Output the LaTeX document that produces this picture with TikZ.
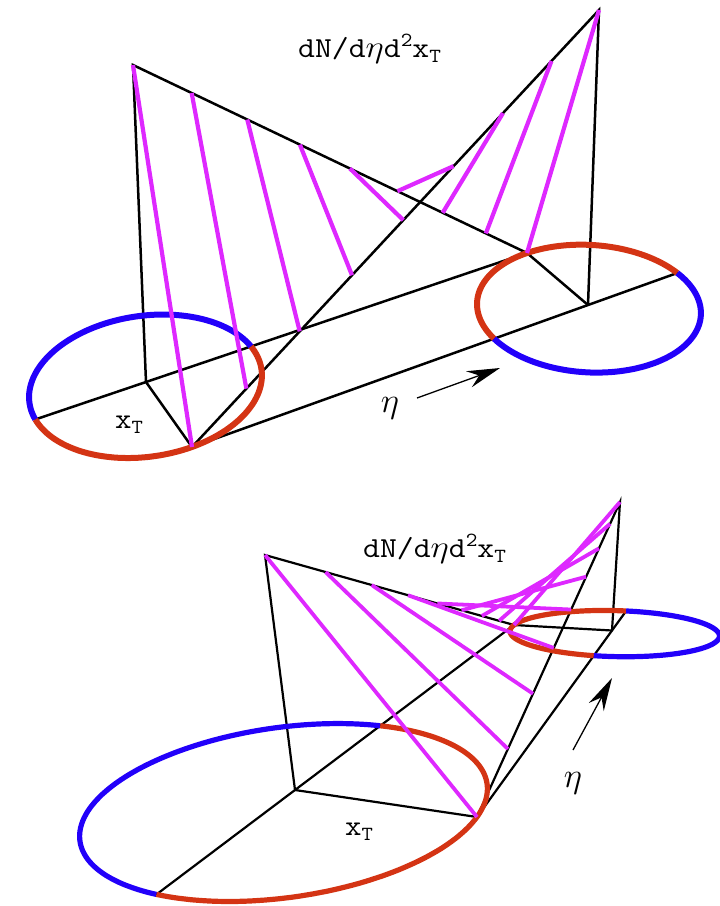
\RequirePackage{fix-cm}
\documentclass[tikz,border=0pt]{standalone}
\usetikzlibrary{calc,arrows.meta}
\definecolor{ellblue}{RGB}{34,0,250}
\definecolor{ellred}{RGB}{212,52,20}
\definecolor{rulepurple}{RGB}{222,40,255}
\def\hmA{0}\def\hmB{0}\def\hmC{0}\def\hmD{0}\def\hmE{0}\def\hmF{0}\def\hmG{0}\def\hmH{0}
\pgfmathdeclarefunction{HX}{2}{\pgfmathparse{((\hmA)*(#1)+(\hmB)*(#2)+(\hmC))/((\hmG)*(#1)+(\hmH)*(#2)+1)}}
\pgfmathdeclarefunction{HY}{2}{\pgfmathparse{((\hmD)*(#1)+(\hmE)*(#2)+(\hmF))/((\hmG)*(#1)+(\hmH)*(#2)+1)}}
% homography of the base plane: (0,0)->C1, (1,0)->P2, (1,1)->C2, (0,1)->B1
\newcommand{\SetHomog}[8]{%
  \pgfmathsetmacro\hmSx{(#1-#3+#5-#7)/100}%
  \pgfmathsetmacro\hmSy{(#2-#4+#6-#8)/100}%
  \pgfmathsetmacro\hmXa{(#3-#5)/100}%
  \pgfmathsetmacro\hmXb{(#7-#5)/100}%
  \pgfmathsetmacro\hmYa{(#4-#6)/100}%
  \pgfmathsetmacro\hmYb{(#8-#6)/100}%
  \pgfmathsetmacro\hmDen{(\hmXa)*(\hmYb)-(\hmXb)*(\hmYa)}%
  \pgfmathsetmacro\hmG{((\hmSx)*(\hmYb)-(\hmXb)*(\hmSy))/(\hmDen)}%
  \pgfmathsetmacro\hmH{((\hmXa)*(\hmSy)-(\hmSx)*(\hmYa))/(\hmDen)}%
  \pgfmathsetmacro\hmA{#3-#1+(\hmG)*#3}%
  \pgfmathsetmacro\hmB{#7-#1+(\hmH)*#7}%
  \pgfmathsetmacro\hmC{#1}%
  \pgfmathsetmacro\hmD{#4-#2+(\hmG)*#4}%
  \pgfmathsetmacro\hmE{#8-#2+(\hmH)*#8}%
  \pgfmathsetmacro\hmF{#2}%
}
\newcommand{\labtext}{\scalebox{1.13}[1]{dN/d{\fontsize{31}{31}\selectfont$\eta$}d\raisebox{11pt}{\fontsize{20}{20}\selectfont 2}x\raisebox{-5pt}{\fontsize{20}{20}\selectfont T}}}
\newcommand{\xttext}{\scalebox{1.1}[1]{x\raisebox{-5pt}{\fontsize{20}{20}\selectfont T}}}
\begin{document}
\begin{tikzpicture}[x=1pt,y=-1pt,
  blk/.style={line width=2.5pt,black,line cap=round},
  ellb/.style={line width=6pt,ellblue,line join=round},
  ellr/.style={line width=6pt,ellred,line join=round},
  purp/.style={line width=4.2pt,rulepurple},
  lab/.style={inner sep=0pt,font=\fontsize{29}{31}\selectfont\ttfamily},
  etalab/.style={inner sep=0pt,font=\fontsize{35}{37}\selectfont},
  etaarrow/.style={line width=1.3pt,-{Stealth[length=33pt,width=17pt,inset=11pt]}}]
\path[use as bounding box] (0,0) rectangle (720,906);

% ===================== top figure =====================
\SetHomog{146}{382}{527}{253}{588}{305}{192}{447}
\def\Lr{3.9}
\coordinate (tC1) at (146,382);
\coordinate (tP2) at (527,253);
\coordinate (tC2) at (588,305);
\coordinate (tB1) at (192,447);
\coordinate (tA1) at (133,65);
\coordinate (tA2) at (599,10);
\coordinate (tLm) at ({HX(-1/\Lr,0)},{HY(-1/\Lr,0)});
\coordinate (tRp) at ({HX(1+1/\Lr,1)},{HY(1+1/\Lr,1)});
\draw[blk] (tLm) -- (tC1) -- (tP2);
\draw[blk] (tB1) -- (tC2) -- (tRp);
\draw[blk] (tC1) -- (tB1);
\draw[blk] (tC2) -- (tP2);
\draw[blk] (tC1) -- (tA1) -- (tP2);
\draw[blk] (tC2) -- (tA2) -- (tB1);
% circles
\draw[ellb] plot[domain=180:360,samples=100,variable=\ang]
  ({HX(cos(\ang)/\Lr,sin(\ang))},{HY(cos(\ang)/\Lr,sin(\ang))});
\draw[ellr] plot[domain=0:180,samples=100,variable=\ang]
  ({HX(cos(\ang)/\Lr,sin(\ang))},{HY(cos(\ang)/\Lr,sin(\ang))});
\draw[ellr] plot[domain=180:360,samples=100,variable=\ang]
  ({HX(1+cos(\ang)/\Lr,1+sin(\ang))},{HY(1+cos(\ang)/\Lr,1+sin(\ang))});
\draw[ellb] plot[domain=0:180,samples=100,variable=\ang]
  ({HX(1+cos(\ang)/\Lr,1+sin(\ang))},{HY(1+cos(\ang)/\Lr,1+sin(\ang))});
% rulings
\foreach \k in {0,...,8}{
  \pgfmathsetmacro\sv{\k/8}
  \pgfmathsetmacro\fra{\sv*1.225/((1-\sv)+\sv*1.225)}
  \pgfmathsetmacro\frb{\sv*1.08/((1-\sv)+\sv*1.08)}
  \draw[purp] ($(tA1)!\fra!(tP2)$) -- ($(tB1)!\frb!(tA2)$);
}
\node[lab,anchor=base west] (tlabel) at (298,57) {\labtext};
\node[lab,anchor=base west] (txt) at (115,428) {\xttext};
\node[etalab] (teta) at (390,408) {$\eta$};
\coordinate (tArS) at (417,398);
\coordinate (tArE) at (500,368);
\draw[etaarrow] (tArS) -- (tArE);

% ===================== bottom figure =====================
\SetHomog{295}{790}{514}{625}{612}{630.5}{477}{817}
\def\Lr{4.1}
\coordinate (bC1) at (295,790);
\coordinate (bP2) at (514,625);
\coordinate (bC2) at (612,630.5);
\coordinate (bB1) at (477,817);
\coordinate (bA1) at (265,555);
\coordinate (bA2) at (620,502);
\coordinate (bLm) at ({HX(-1/\Lr,0)},{HY(-1/\Lr,0)});
\coordinate (bRp) at ({HX(1+1/\Lr,1)},{HY(1+1/\Lr,1)});
\begin{scope}[blk/.append style={line width=2.2pt}]
\draw[blk] (bLm) -- (bC1) -- (bP2);
\draw[blk] (bB1) -- (bC2) -- (bRp);
\draw[blk] (bC1) -- (bB1);
\draw[blk] (bC2) -- (bP2);
\draw[blk] (bC1) -- (bA1) -- (bP2);
\draw[blk] (bC2) -- (bA2) -- (bB1);
\end{scope}
\begin{scope}[ellb/.append style={line width=5.2pt},ellr/.append style={line width=5.2pt}]
\draw[ellb] plot[domain=180:360,samples=120,variable=\ang]
  ({HX(cos(\ang)/\Lr,sin(\ang))},{HY(cos(\ang)/\Lr,sin(\ang))});
\draw[ellr] plot[domain=0:180,samples=120,variable=\ang]
  ({HX(cos(\ang)/\Lr,sin(\ang))},{HY(cos(\ang)/\Lr,sin(\ang))});
\draw[ellr] plot[domain=180:360,samples=120,variable=\ang]
  ({HX(1+cos(\ang)/\Lr,1+sin(\ang))},{HY(1+cos(\ang)/\Lr,1+sin(\ang))});
\draw[ellb] plot[domain=0:180,samples=120,variable=\ang]
  ({HX(1+cos(\ang)/\Lr,1+sin(\ang))},{HY(1+cos(\ang)/\Lr,1+sin(\ang))});
\end{scope}
\foreach \k in {0,...,8}{
  \pgfmathsetmacro\sv{\k/8}
  \pgfmathsetmacro\fra{\sv*2.25/((1-\sv)+\sv*2.25)}
  \pgfmathsetmacro\frb{\sv*1.93/((1-\sv)+\sv*1.93)}
  \draw[purp,line width=3.8pt] ($(bA1)!\fra!(bP2)$) -- ($(bB1)!\frb!(bA2)$);
}
\node[lab,anchor=base west] (blabel) at (363,557) {\labtext};
\node[lab,anchor=base west] (bxt) at (345,835) {\xttext};
\node[etalab] (beta) at (573,783) {$\eta$};
\coordinate (bArS) at (573,750);
\coordinate (bArE) at (612,678);
\draw[etaarrow] (bArS) -- (bArE);
\end{tikzpicture}
\end{document}
